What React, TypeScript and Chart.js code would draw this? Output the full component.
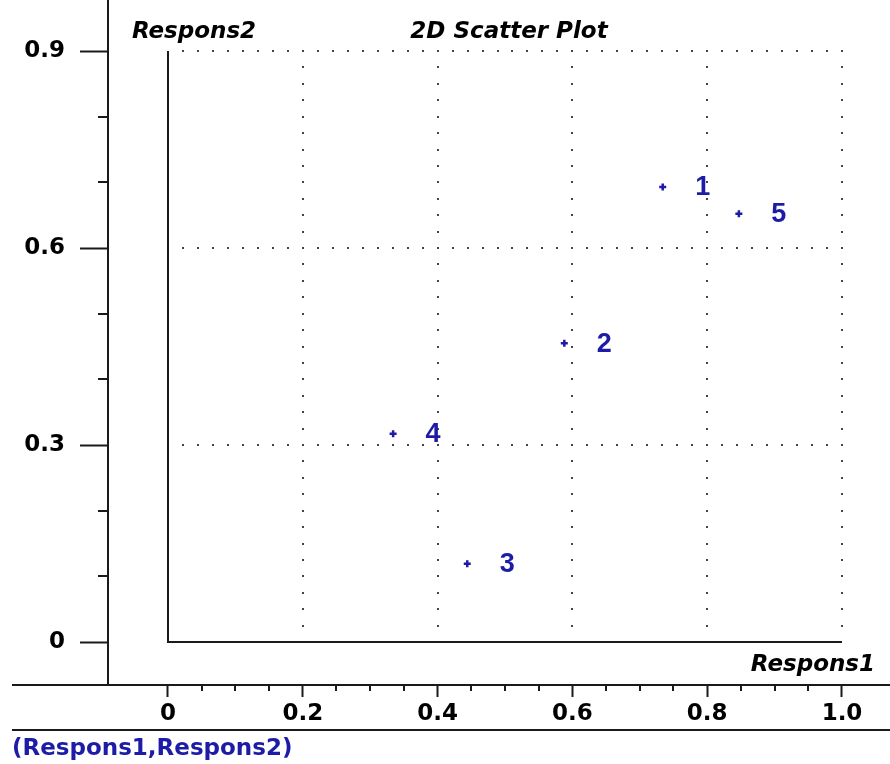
import React, { useEffect, useRef } from "react";
import { Chart, registerables } from "chart.js";

Chart.register(...registerables);

// ---- data ----
const pointNames = ["1", "2", "3", "4", "5"];
const respons1 = [0.734, 0.588, 0.444, 0.334, 0.847];
const respons2 = [0.693, 0.455, 0.119, 0.317, 0.652];

const xTickValues = [0, 0.2, 0.4, 0.6, 0.8, 1.0];
const xTickLabels = ["0", "0.2", "0.4", "0.6", "0.8", "1.0"];
const xMinorTicks = [0.05, 0.1, 0.15, 0.25, 0.3, 0.35, 0.45, 0.5, 0.55, 0.65, 0.7, 0.75, 0.85, 0.9, 0.95];
const yTickValues = [0, 0.3, 0.6, 0.9];
const yTickLabels = ["0", "0.3", "0.6", "0.9"];
const yMinorTicks = [0.1, 0.2, 0.4, 0.5, 0.7, 0.8];
const xGridValues = [0.2, 0.4, 0.6, 0.8, 1.0];
const yGridValues = [0.3, 0.6, 0.9];

const titleText = "2D Scatter Plot";
const xAxisTitle = "Respons1";
const yAxisTitle = "Respons2";
const footerText = "(Respons1,Respons2)";

const X_MIN = -0.08902;
const X_MAX = 1.07122;
const Y_MIN = -0.06548;
const Y_MAX = 0.97767;

const BLUE = "#1c1ca6";
const AXIS = "#1a1a1a";
const FONT = "'DejaVu Sans', sans-serif";

const zeroPadding = (s: any) => {
  s.paddingTop = 0;
  s.paddingBottom = 0;
  s.paddingLeft = 0;
  s.paddingRight = 0;
};

const decorPlugin = {
  id: "decor",
  beforeDatasetsDraw(chart: any) {
    const { ctx, scales } = chart;
    const x = scales.x;
    const y = scales.y;
    const px = (v: number) => x.getPixelForValue(v);
    const py = (v: number) => y.getPixelForValue(v);
    ctx.save();
    // dotted grid
    ctx.fillStyle = "#444";
    const hStep = (px(1) - px(0)) / 45;
    yGridValues.forEach((gv) => {
      const yy = Math.round(py(gv));
      for (let xx = px(0) + hStep; xx <= px(1) + 0.5; xx += hStep) {
        ctx.fillRect(Math.round(xx) - 1, yy - 1, 2, 2);
      }
    });
    const vStep = (py(0) - py(0.9)) / 36;
    xGridValues.forEach((gv) => {
      const xx = Math.round(px(gv));
      for (let yy = py(0.9) + vStep; yy < py(0) - 2; yy += vStep) {
        ctx.fillRect(xx - 1, Math.round(yy) - 1, 2, 2);
      }
    });
    // inner axes
    ctx.strokeStyle = AXIS;
    ctx.lineWidth = 2;
    ctx.beginPath();
    ctx.moveTo(px(0), py(0.9));
    ctx.lineTo(px(0), py(0));
    ctx.lineTo(px(1), py(0));
    ctx.stroke();
    // outer lines
    const bottom = chart.chartArea.bottom;
    ctx.beginPath();
    ctx.moveTo(12, bottom);
    ctx.lineTo(chart.width, bottom);
    ctx.moveTo(12, x.bottom);
    ctx.lineTo(chart.width, x.bottom);
    ctx.stroke();
    // minor ticks
    ctx.beginPath();
    xMinorTicks.forEach((v) => {
      const xx = Math.round(px(v));
      ctx.moveTo(xx, bottom);
      ctx.lineTo(xx, bottom + 6);
    });
    const left = chart.chartArea.left;
    yMinorTicks.forEach((v) => {
      const yy = Math.round(py(v));
      ctx.moveTo(left - 10, yy);
      ctx.lineTo(left, yy);
    });
    ctx.stroke();
    ctx.restore();
  },
  afterDatasetsDraw(chart: any) {
    const { ctx, scales } = chart;
    const y = scales.y;
    const py = (v: number) => y.getPixelForValue(v);
    ctx.save();
    // point labels
    const meta = chart.getDatasetMeta(0);
    ctx.fillStyle = BLUE;
    ctx.font = "bold 27px 'Liberation Sans', Arial, sans-serif";
    ctx.textAlign = "center";
    ctx.textBaseline = "middle";
    meta.data.forEach((el: any, i: number) => {
      ctx.fillText(pointNames[i], el.x + 40, el.y + 1);
    });
    // titles
    ctx.fillStyle = "#000";
    ctx.font = `italic bold 23px ${FONT}`;
    ctx.textBaseline = "alphabetic";
    ctx.textAlign = "center";
    ctx.fillText(titleText, 509, 38);
    ctx.fillText(yAxisTitle, 194, 38);
    ctx.textAlign = "right";
    ctx.fillText(xAxisTitle, 875, py(0) + 29);
    // footer
    ctx.fillStyle = BLUE;
    ctx.font = `bold 23px ${FONT}`;
    ctx.textAlign = "left";
    ctx.fillText(footerText, 12, 755);
    ctx.restore();
  },
};

export default function App() {
  const ref = useRef<HTMLCanvasElement | null>(null);
  useEffect(() => {
    if (!ref.current) return;
    const chart = new Chart(ref.current, {
      type: "scatter",
      data: {
        datasets: [
          {
            data: respons1.map((v, i) => ({ x: v, y: respons2[i] })),
            pointStyle: "cross",
            radius: 3.5,
            borderWidth: 2.5,
            borderColor: BLUE,
            backgroundColor: BLUE,
          },
        ],
      },
      options: {
        animation: false,
        responsive: false,
        maintainAspectRatio: false,
        layout: { autoPadding: false, padding: { left: 0, right: 0, top: 0, bottom: 34 } },
        plugins: { legend: { display: false }, tooltip: { enabled: false }, title: { display: false } },
        scales: {
          x: {
            type: "linear",
            min: X_MIN,
            max: X_MAX,
            afterBuildTicks: (s: any) => {
              s.ticks = xTickValues.map((v) => ({ value: v }));
            },
            afterFit: (s: any) => {
              s.height = 45;
              zeroPadding(s);
            },
            ticks: {
              autoSkip: false,
              maxRotation: 0,
              padding: 3,
              color: "#000",
              font: { family: FONT, weight: "bold", size: 23 },
              callback: (v: any) => xTickLabels[xTickValues.indexOf(Number(v))] ?? "",
            },
            grid: { drawOnChartArea: false, drawTicks: true, tickLength: 12, tickColor: AXIS, tickWidth: 2 },
            border: { display: true, color: AXIS, width: 2 },
          },
          y: {
            type: "linear",
            min: Y_MIN,
            max: Y_MAX,
            afterBuildTicks: (s: any) => {
              s.ticks = yTickValues.map((v) => ({ value: v }));
            },
            afterFit: (s: any) => {
              s.width = 108;
              zeroPadding(s);
            },
            ticks: {
              autoSkip: false,
              padding: 15,
              color: "#000",
              font: { family: FONT, weight: "bold", size: 23 },
              callback: (v: any) => yTickLabels[yTickValues.indexOf(Number(v))] ?? "",
            },
            grid: { drawOnChartArea: false, drawTicks: true, tickLength: 28, tickColor: AXIS, tickWidth: 2 },
            border: { display: true, color: AXIS, width: 2 },
          },
        },
      },
      plugins: [decorPlugin],
    } as any);
    return () => chart.destroy();
  }, []);
  return (
    <div style={{ position: "absolute", left: 0, top: 0, width: 890, height: 764, background: "#fff" }}>
      <canvas ref={ref} width={890} height={764} style={{ width: 890, height: 764, display: "block" }} />
    </div>
  );
}
